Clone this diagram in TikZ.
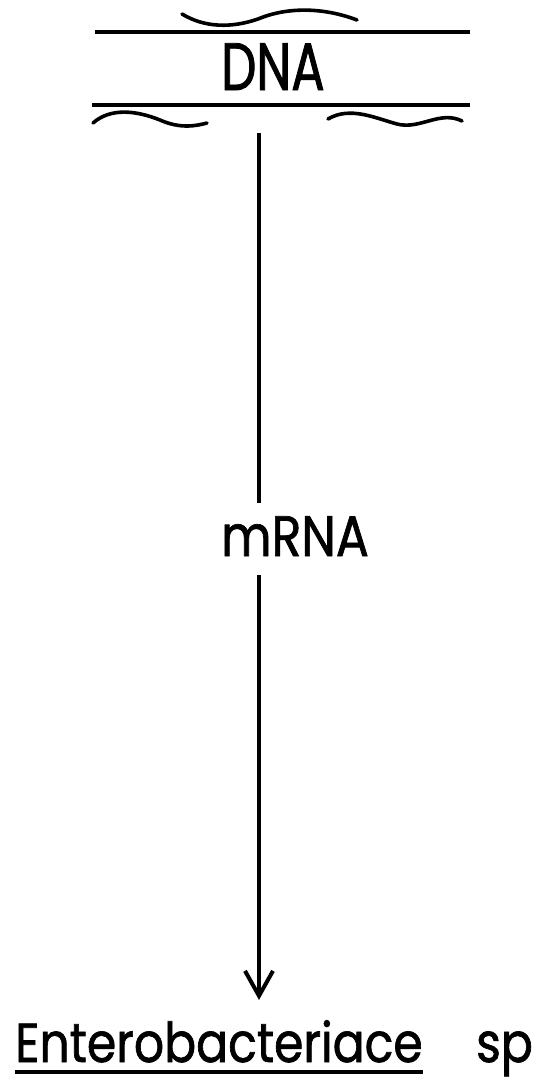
\documentclass[tikz,border=0pt]{standalone}
\usepackage{fontspec}
\setmainfont{Poppins}[FakeStretch=0.86,FakeBold=1.2]
\newfontfamily\narrowfont{Poppins}[FakeStretch=0.74,FakeBold=1.2]
\usepackage{tikz}
\usetikzlibrary{arrows.meta,positioning}

\begin{document}
\begin{tikzpicture}[
      x=1pt,y=-1pt,
      strand/.style={line width=4pt},
      wave/.style={line width=3.6pt,line cap=round},
      label/.style={inner sep=0pt,anchor=base,font=\fontsize{57}{57}\selectfont},
      arrow/.style={-{Straight Barb[length=25pt,width=28pt,line width=4pt]},line width=3.4pt}
    ]
    \useasboundingbox (0,0) rectangle (544,1082);
    % double strand
    \draw[strand] (95,32) -- (470,32);
    \draw[strand] (92,105) -- (470,105);
    \node[label,font=\narrowfont\fontsize{67}{67}\selectfont] (dna) at (273,90) {DNA};
    % loose ends
    \draw[wave] (182,14) .. controls (205,28) and (232,28) .. (258,19) .. controls (284,8) and (320,6) .. (357,20);
    \draw[wave] (93,123) .. controls (110,108) and (135,110) .. (160,120) .. controls (180,129) and (196,126) .. (207,123);
    \draw[wave] (328,119) .. controls (350,106) and (375,118) .. (397,124) .. controls (420,130) and (440,110) .. (462,121);
    % transcription
    \coordinate (start) at (259,133);
    \node[label] (mrna) at (295,556) {mRNA};
    \node[label,anchor=base west,font=\fontsize{55}{55}\selectfont] (genus) at (15,1062) {Enterobacteriace};
    \node[label,anchor=base west,font=\fontsize{55}{55}\selectfont] (species) at (476,1062) {sp};
    \draw[line width=3.6pt] ([yshift=-10pt]genus.base west) -- ([yshift=-10pt]genus.base east);
    \draw[line width=3.4pt] (start) -- ([yshift=13pt]start |- mrna.north);
    \draw[arrow] ([yshift=-19pt]start |- mrna.south) -- ([yshift=20pt]start |- genus.north);
  \end{tikzpicture}
\end{document}
